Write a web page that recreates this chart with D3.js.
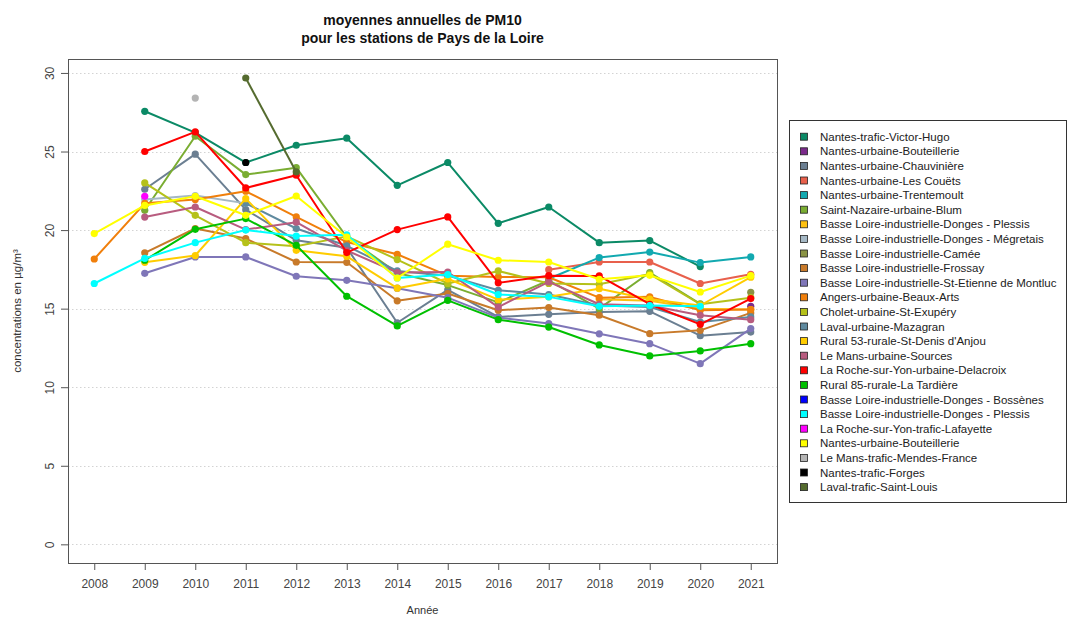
<!DOCTYPE html>
<html>
<head>
<meta charset="utf-8">
<script src="https://cdn.jsdelivr.net/npm/d3@7"></script>
<style>
  html, body { margin: 0; padding: 0; background: #fff; }
  svg { display: block; font-family: "Liberation Sans", Arial, sans-serif; }
</style>
</head>
<body>
<svg id="chart" width="1068" height="617"></svg>
<script>
// Years on the x axis
const years = [2008, 2009, 2010, 2011, 2012, 2013, 2014, 2015, 2016, 2017, 2018, 2019, 2020, 2021];
const yTicks = [0, 5, 10, 15, 20, 25, 30];

// Station names (legend order) and their colours
const stations = [
  "Nantes-trafic-Victor-Hugo",
  "Nantes-urbaine-Bouteillerie",
  "Nantes-urbaine-Chauvinière",
  "Nantes-urbaine-Les Couëts",
  "Nantes-urbaine-Trentemoult",
  "Saint-Nazaire-urbaine-Blum",
  "Basse Loire-industrielle-Donges - Plessis",
  "Basse Loire-industrielle-Donges - Mégretais",
  "Basse Loire-industrielle-Camée",
  "Basse Loire-industrielle-Frossay",
  "Basse Loire-industrielle-St-Etienne de Montluc",
  "Angers-urbaine-Beaux-Arts",
  "Cholet-urbaine-St-Exupéry",
  "Laval-urbaine-Mazagran",
  "Rural 53-rurale-St-Denis d'Anjou",
  "Le Mans-urbaine-Sources",
  "La Roche-sur-Yon-urbaine-Delacroix",
  "Rural 85-rurale-La Tardière",
  "Basse Loire-industrielle-Donges - Bossènes",
  "Basse Loire-industrielle-Donges - Plessis",
  "La Roche-sur-Yon-trafic-Lafayette",
  "Nantes-urbaine-Bouteillerie",
  "Le Mans-trafic-Mendes-France",
  "Nantes-trafic-Forges",
  "Laval-trafic-Saint-Louis"
];
const colors = [
  "#0b8a66", "#7b2a8b", "#6b7f92", "#e8604c", "#12a9b0", "#7aad32",
  "#fdc010", "#a5b8c5", "#8a9345", "#c87a2a", "#7f76b8", "#f07f0b",
  "#b5c11a", "#5f8a9f", "#ffcc00", "#b85c7f", "#ff0000", "#00c000",
  "#0000ff", "#00ffff", "#ff00ff", "#ffff00", "#b4b4b4", "#000000", "#556b2f"
];

// Annual PM10 means (µg/m³), one value per year 2008..2021, null = no measurement
const _ = null;
const victorHugo      = [_, 27.56, 26.2, 24.3, 25.4, 25.85, 22.85, 24.3, 20.43, 21.47, 19.2, 19.33, 17.68, _];
const bouteillerie1   = [_, _, _, _, _, _, _, _, _, _, _, _, _, 15.15];
const chauviniere     = [_, 22.6, 24.83, 21.3, 19.35, 18.88, 14.1, 16.2, 14.47, 14.64, 14.79, 14.83, 13.28, 13.51];
const couets          = [_, _, _, _, _, _, _, _, _, 17.48, 17.97, 17.97, 16.6, 17.19];
const trentemoult     = [_, _, _, _, _, _, _, _, _, 16.9, 18.25, 18.6, 17.93, 18.29];
const blum            = [_, 21.26, 25.97, 23.53, 23.97, 19.56, 17.27, 16.5, 15.4, 16.8, 15.0, 17.3, 15.3, _];
const dongesPlessis1  = [_, _, _, _, _, _, _, _, _, _, 15.6, 15.5, 15.0, 14.94];
const megretais       = [_, 21.94, 22.2, 21.7, _, _, _, _, _, _, _, _, _, _];
const camee           = [_, _, _, _, _, _, _, _, _, _, _, _, _, 16.04];
const frossay         = [_, 18.55, 20.1, 19.46, 17.97, 17.95, 15.5, 15.96, 14.9, 15.07, 14.58, 13.41, 13.62, 14.73];
const montluc         = [_, 17.25, 18.29, 18.29, 17.06, 16.8, 16.3, 15.7, 14.43, 14.05, 13.4, 12.77, 11.5, 13.73];
const beauxArts       = [18.16, 21.7, 21.94, 22.47, 20.84, 19.24, 18.46, 17.1, 17.02, 17.0, 15.7, 15.75, 14.9, 14.94];
const cholet          = [_, 23.0, 20.94, 19.2, 18.97, 19.6, 18.12, 16.6, 17.4, 16.6, 16.55, 17.2, 15.28, 15.7];
const mazagran        = [_, _, _, 21.7, 20.1, 19.0, 17.4, 17.1, 16.17, 15.9, 15.2, 15.1, 14.15, 14.47];
const rural53         = [_, 17.95, 18.38, 22.0, 18.71, 18.33, 16.3, 16.9, 15.57, 15.75, 16.27, 15.6, 15.2, 17.0];
const sources         = [_, 20.83, 21.47, 20.03, 20.5, 18.7, 17.3, 17.33, 15.1, 16.7, 15.28, 15.2, 14.58, 14.3];
const delacroix       = [_, 25.0, 26.25, 22.68, 23.49, 18.57, 20.03, 20.84, 16.64, 17.1, 17.08, 15.28, 14.0, 15.64];
const tardiere        = [_, 18.08, 20.05, 20.73, 19.03, 15.79, 13.9, 15.53, 14.3, 13.83, 12.69, 11.99, 12.31, 12.77];
const bossenes        = [_, _, _, _, _, _, _, _, _, _, _, _, _, _];
const dongesPlessis2  = [16.6, 18.2, 19.2, 20.0, 19.62, 19.7, 16.95, 17.17, 15.9, 15.75, 15.15, 15.2, 15.15, _];
const lafayette       = [_, 22.15, _, _, _, _, _, _, _, _, _, _, _, _];
const bouteillerie2   = [19.78, 21.57, 22.15, 20.94, 22.17, 19.56, 16.95, 19.1, 18.08, 17.97, 16.87, 17.12, 16.06, 17.1];
const mendesFrance    = [_, _, 28.4, _, _, _, _, _, _, _, _, _, _, _];
const forges          = [_, _, _, 24.3, _, _, _, _, _, _, _, _, _, _];
const saintLouis      = [_, _, _, 29.68, 23.7, _, _, _, _, _, _, _, _, _];

const seriesValues = [
  victorHugo, bouteillerie1, chauviniere, couets, trentemoult, blum,
  dongesPlessis1, megretais, camee, frossay, montluc, beauxArts, cholet,
  mazagran, rural53, sources, delacroix, tardiere, bossenes, dongesPlessis2,
  lafayette, bouteillerie2, mendesFrance, forges, saintLouis
];

const svg = d3.select("#chart");
const plot = { left: 68, right: 777, top: 59, bottom: 563 };

// R-style 4% padding around the data range
const yMax = 29.7;
const x = d3.scaleLinear()
  .domain([2008 - 13 * 0.04, 2021 + 13 * 0.04])
  .range([plot.left, plot.right]);
const y = d3.scaleLinear()
  .domain([-yMax * 0.04, yMax * 1.04])
  .range([plot.bottom, plot.top]);

// Dotted horizontal grid
svg.append("g").selectAll("line").data(yTicks).join("line")
  .attr("x1", plot.left).attr("x2", plot.right)
  .attr("y1", d => Math.round(y(d)) + 0.5).attr("y2", d => Math.round(y(d)) + 0.5)
  .attr("stroke", "#d3d3d3").attr("stroke-width", 1).attr("stroke-dasharray", "1.5,2.5");

// Axes
const axisColor = "#555";
const xAxis = svg.append("g")
  .attr("transform", `translate(0,${plot.bottom})`)
  .call(d3.axisBottom(x).tickValues(years).tickFormat(d3.format("d")).tickSize(7).tickPadding(9));
const yAxis = svg.append("g")
  .attr("transform", `translate(${plot.left},0)`)
  .call(d3.axisLeft(y).tickValues(yTicks).tickSize(7).tickPadding(6));
[xAxis, yAxis].forEach(g => {
  g.select(".domain").remove();
  g.selectAll("line").attr("stroke", axisColor);
  g.selectAll("text").attr("fill", "#444").attr("font-size", 12)
    .attr("font-family", "Liberation Sans, Arial, sans-serif");
});
yAxis.selectAll(".tick text")
  .attr("text-anchor", "middle")
  .attr("dy", null)
  .attr("x", null)
  .attr("transform", "translate(-18,0) rotate(-90)")
  .attr("dominant-baseline", "central");

// Plot frame
svg.append("rect")
  .attr("x", plot.left + 0.5).attr("y", plot.top + 0.5)
  .attr("width", plot.right - plot.left).attr("height", plot.bottom - plot.top)
  .attr("fill", "none").attr("stroke", axisColor).attr("stroke-width", 1);

// Lines and points per station
const line = d3.line()
  .defined(d => d.v !== null)
  .x(d => x(d.year)).y(d => y(d.v));

seriesValues.forEach((vals, i) => {
  const pts = vals.map((v, j) => ({ year: years[j], v }));
  const g = svg.append("g");
  g.append("path").datum(pts)
    .attr("d", line)
    .attr("fill", "none")
    .attr("stroke", colors[i])
    .attr("stroke-width", 2)
    .attr("stroke-linejoin", "round");
  g.selectAll("circle").data(pts.filter(d => d.v !== null)).join("circle")
    .attr("cx", d => x(d.year)).attr("cy", d => y(d.v))
    .attr("r", 3.6).attr("fill", colors[i]);
});

// Titles
const title = svg.append("text")
  .attr("x", (plot.left + plot.right) / 2)
  .attr("text-anchor", "middle")
  .attr("font-weight", "bold").attr("font-size", 14).attr("fill", "#111");
title.append("tspan").attr("x", (plot.left + plot.right) / 2).attr("y", 25).text("moyennes annuelles de PM10");
title.append("tspan").attr("x", (plot.left + plot.right) / 2).attr("y", 43).text("pour les stations de Pays de la Loire");

svg.append("text")
  .attr("transform", `translate(21,${(plot.top + plot.bottom) / 2}) rotate(-90)`)
  .attr("text-anchor", "middle").attr("font-size", 11.5).attr("fill", "#333")
  .text("concentrations en µg/m³");

svg.append("text")
  .attr("x", (plot.left + plot.right) / 2).attr("y", 614)
  .attr("text-anchor", "middle").attr("font-size", 11).attr("fill", "#333")
  .text("Année");

// Legend
const legend = { left: 789, top: 120, right: 1066, bottom: 502, first: 136.7, step: 14.6 };
svg.append("rect")
  .attr("x", legend.left + 0.5).attr("y", legend.top + 0.5)
  .attr("width", legend.right - legend.left).attr("height", legend.bottom - legend.top)
  .attr("fill", "#fff").attr("stroke", "#333").attr("stroke-width", 1);
const items = svg.append("g").selectAll("g").data(stations).join("g")
  .attr("transform", (d, i) => `translate(0,${legend.first + i * legend.step})`);
items.append("rect")
  .attr("x", 800.5).attr("y", -3.5).attr("width", 7).attr("height", 7)
  .attr("fill", (d, i) => colors[i]).attr("stroke", "#222").attr("stroke-width", 0.8);
items.append("text")
  .attr("x", 820).attr("y", 0).attr("dy", "0.35em")
  .attr("font-size", 11.5).attr("fill", "#222")
  .text(d => d);
</script>
</body>
</html>
